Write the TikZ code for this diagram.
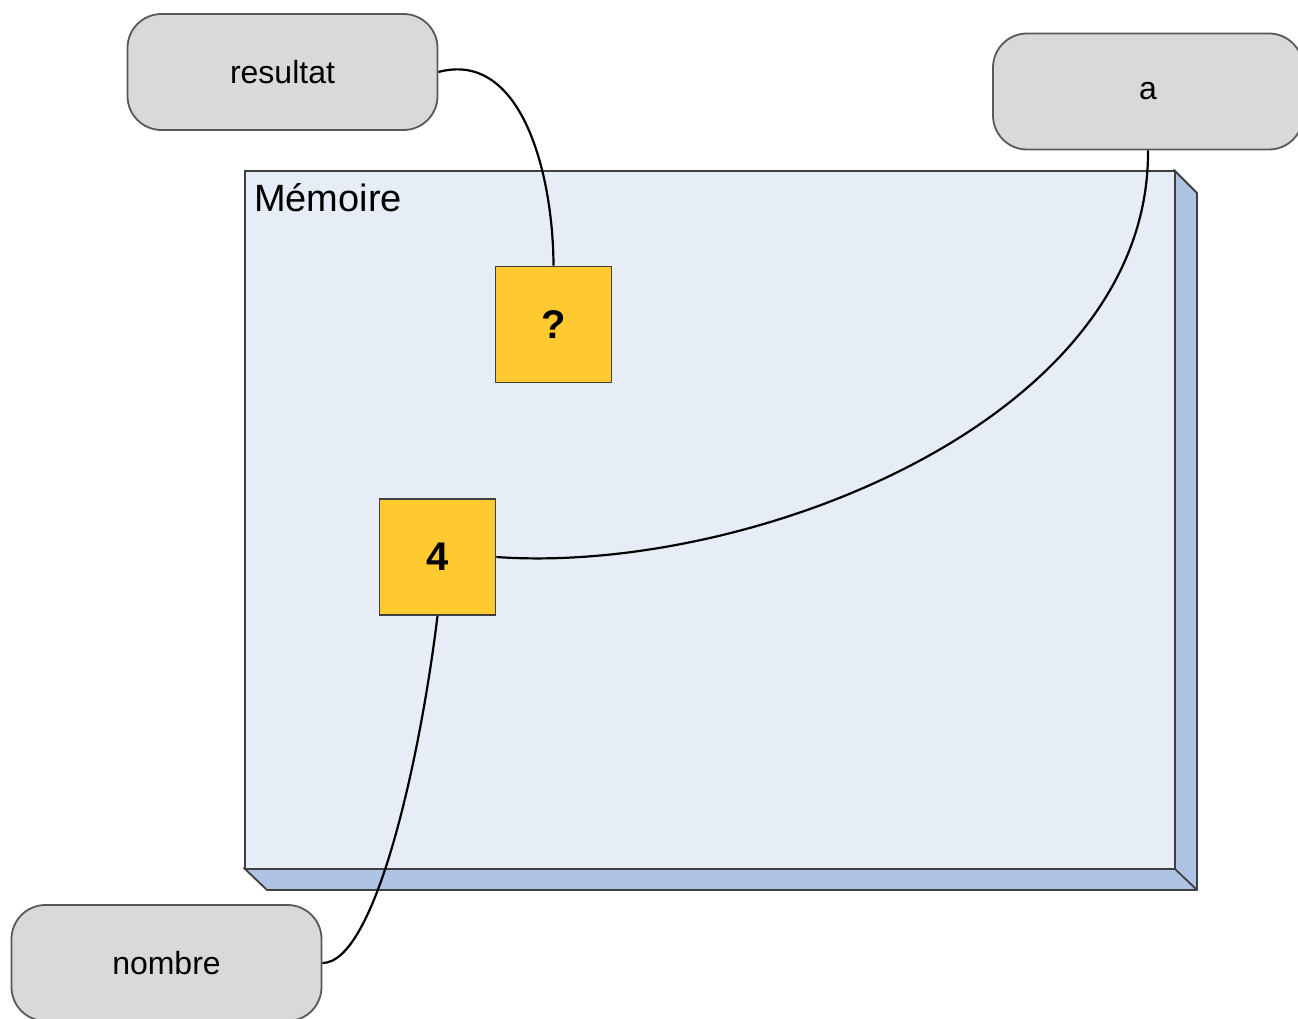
\documentclass[tikz,border=0pt]{standalone}
\usepackage{fontspec}
\setmainfont{Liberation Sans}
\begin{document}
\begin{tikzpicture}[x=1pt,y=-1pt,
  varbox/.style={draw=black!65,line width=1.8pt,fill=grayfill,rounded corners=34pt,minimum width=310pt,minimum height=116pt,inner sep=0pt,font=\fontsize{32}{36}\selectfont},
  cell/.style={draw=black!75,line width=1.8pt,fill=cellyellow,minimum width=116pt,minimum height=116pt,inner sep=0pt,font=\bfseries\fontsize{40}{44}\selectfont},
  link/.style={line width=2.2pt,black}]
\definecolor{grayfill}{HTML}{D9D9D9}
\definecolor{cellyellow}{HTML}{FFC930}
\definecolor{memfront}{HTML}{E7EDF7}
\definecolor{memside}{HTML}{AFC4E5}
\useasboundingbox (0,0) rectangle (1298,1019);
% memory box
\fill[memside,draw=black!75,line width=1.8pt,line join=round] (1174,170) -- (1197,193) -- (1197,890) -- (267,890) -- (244,868) -- (1174,868) -- cycle;
\draw[black!75,line width=1.8pt] (1174,868) -- (1197,890);
\node[draw=black!75,line width=1.8pt,fill=memfront,minimum width=930pt,minimum height=698pt,anchor=north west,inner sep=0pt] (mem) at (244,170) {};
\node[anchor=north west,font=\fontsize{38}{42}\selectfont,inner sep=0pt] (memlabel) at (254,183) {Mémoire};
% cells
\node[cell] (q) at (553.5,324.5) {?};
\node[cell] (four) at (437.5,557) {4};
% variable boxes
\node[varbox] (res) at (282.5,72) {resultat};
\node[varbox] (a) at (1148,91.5) {a};
\node[varbox] (nom) at (166.5,963) {nombre};
% links
\draw[link] (res.east) .. controls (520,50) and (553,170) .. (q.north);
\draw[link] (a.south) .. controls (1150,420) and (750,575) .. (four.east);
\draw[link] (nom.east) .. controls (375,963) and (420,760) .. (four.south);
\end{tikzpicture}
\end{document}
